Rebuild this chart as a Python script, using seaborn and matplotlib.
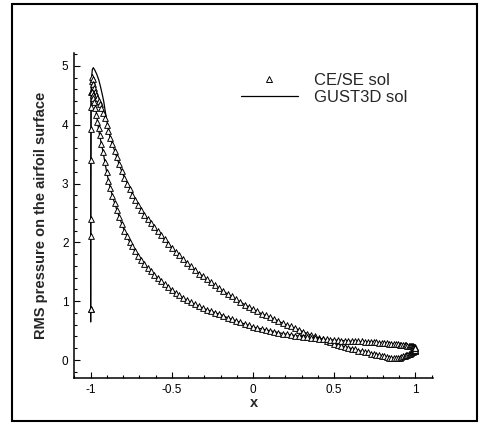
import matplotlib
matplotlib.use("Agg")
import matplotlib.pyplot as plt
from matplotlib.ticker import MultipleLocator, FormatStrFormatter
from matplotlib.lines import Line2D
from matplotlib.patches import Rectangle
import seaborn as sns
import pandas as pd

# ---------------- data ----------------
# CE/SE solution: surface stations (same x for both surfaces)
x_cese = [-1.0, -0.9997, -0.9986, -0.9969, -0.9945, -0.9914, -0.9877, -0.9833, -0.9782, -0.9724,
          -0.9659, -0.9588, -0.9511, -0.9426, -0.9336, -0.9239, -0.9136, -0.9026, -0.8910, -0.8788,
          -0.8660, -0.8526, -0.8387, -0.8241, -0.8090, -0.7934, -0.7771, -0.7604, -0.7431, -0.7254,
          -0.7071, -0.6884, -0.6691, -0.6495, -0.6293, -0.6088, -0.5878, -0.5664, -0.5446, -0.5225,
          -0.5, -0.4772, -0.4540, -0.4305, -0.4067, -0.3827, -0.3584, -0.3338, -0.3090, -0.2840,
          -0.2588, -0.2334, -0.2079, -0.1822, -0.1564, -0.1305, -0.1045, -0.0785, -0.0523, -0.0262,
          0.0, 0.0262, 0.0523, 0.0785, 0.1045, 0.1305, 0.1564, 0.1822, 0.2079, 0.2334,
          0.2588, 0.2840, 0.3090, 0.3338, 0.3584, 0.3827, 0.4067, 0.4305, 0.4540, 0.4772,
          0.5, 0.5225, 0.5446, 0.5664, 0.5878, 0.6088, 0.6293, 0.6495, 0.6691, 0.6884,
          0.7071, 0.7254, 0.7431, 0.7604, 0.7771, 0.7934, 0.8090, 0.8241, 0.8387, 0.8526,
          0.8660, 0.8788, 0.8910, 0.9026, 0.9136, 0.9239, 0.9336, 0.9426, 0.9511, 0.9588,
          0.9659, 0.9724, 0.9782, 0.9833, 0.9877, 0.9914, 0.9945, 0.9969, 0.9986, 0.9997, 1.0]

p_cese_upper = [0.87, 2.40, 3.93, 4.55, 4.75, 4.82, 4.78, 4.70, 4.62, 4.55,
                4.50, 4.46, 4.41, 4.35, 4.28, 4.20, 4.11, 4.00, 3.90, 3.78,
                3.67, 3.56, 3.45, 3.33, 3.21, 3.10, 3.00, 2.91, 2.81, 2.72,
                2.63, 2.55, 2.47, 2.40, 2.33, 2.26, 2.19, 2.12, 2.05, 1.98,
                1.91, 1.84, 1.78, 1.71, 1.65, 1.59, 1.53, 1.47, 1.42, 1.37,
                1.32, 1.27, 1.22, 1.17, 1.12, 1.08, 1.03, 0.99, 0.94, 0.90,
                0.86, 0.83, 0.79, 0.76, 0.73, 0.69, 0.66, 0.63, 0.60, 0.57,
                0.54, 0.51, 0.48, 0.45, 0.42, 0.40, 0.37, 0.35, 0.32, 0.30,
                0.28, 0.26, 0.24, 0.22, 0.21, 0.19, 0.18, 0.16, 0.15, 0.14,
                0.13, 0.11, 0.10, 0.09, 0.08, 0.07, 0.06, 0.05, 0.04, 0.035,
                0.03, 0.03, 0.035, 0.04, 0.05, 0.06, 0.07, 0.08, 0.09, 0.10,
                0.11, 0.12, 0.13, 0.14, 0.15, 0.15, 0.16, 0.16, 0.16, 0.17, 0.17]

p_cese_lower = [0.87, 2.10, 3.40, 4.30, 4.55, 4.56, 4.50, 4.45, 4.38, 4.28,
                4.16, 4.05, 3.94, 3.82, 3.68, 3.53, 3.37, 3.20, 3.05, 2.92,
                2.79, 2.67, 2.55, 2.43, 2.31, 2.20, 2.10, 2.01, 1.93, 1.85,
                1.77, 1.70, 1.63, 1.57, 1.51, 1.45, 1.39, 1.34, 1.29, 1.24,
                1.19, 1.14, 1.10, 1.06, 1.02, 0.98, 0.95, 0.91, 0.88, 0.855,
                0.83, 0.80, 0.775, 0.75, 0.72, 0.695, 0.67, 0.64, 0.615, 0.59,
                0.56, 0.545, 0.53, 0.51, 0.495, 0.48, 0.465, 0.45, 0.44, 0.425,
                0.415, 0.405, 0.395, 0.385, 0.375, 0.37, 0.36, 0.355, 0.35, 0.345,
                0.34, 0.335, 0.33, 0.33, 0.325, 0.32, 0.32, 0.315, 0.315, 0.31,
                0.31, 0.305, 0.30, 0.30, 0.295, 0.29, 0.29, 0.285, 0.28, 0.275,
                0.27, 0.27, 0.265, 0.26, 0.26, 0.255, 0.25, 0.25, 0.245, 0.24,
                0.24, 0.235, 0.23, 0.23, 0.225, 0.22, 0.22, 0.215, 0.21, 0.21, 0.20]

# GUST3D solution (continuous line)
x_gust = [-1.0, -0.9995, -0.998, -0.995, -0.99, -0.984, -0.975, -0.963, -0.95, -0.94,
          -0.93, -0.92, -0.91, -0.90, -0.88, -0.86, -0.84, -0.82, -0.80, -0.77,
          -0.74, -0.70, -0.65, -0.60, -0.55, -0.50, -0.45, -0.40, -0.35, -0.30,
          -0.25, -0.20, -0.15, -0.10, -0.05, 0.0, 0.05, 0.10, 0.15, 0.20,
          0.25, 0.30, 0.35, 0.40, 0.45, 0.50, 0.55, 0.60, 0.65, 0.70,
          0.75, 0.80, 0.85, 0.88, 0.91, 0.94, 0.97, 0.99, 1.0]

p_gust_upper = [0.65, 3.0, 4.3, 4.8, 4.94, 4.97, 4.93, 4.86, 4.76, 4.65,
                4.53, 4.40, 4.22, 4.05, 3.78, 3.62, 3.45, 3.29, 3.15, 2.98,
                2.80, 2.60, 2.39, 2.22, 2.06, 1.91, 1.76, 1.63, 1.51, 1.40,
                1.30, 1.20, 1.11, 1.02, 0.94, 0.86, 0.79, 0.73, 0.67, 0.60,
                0.55, 0.49, 0.43, 0.38, 0.33, 0.28, 0.24, 0.20, 0.16, 0.13,
                0.09, 0.07, 0.04, 0.03, 0.05, 0.07, 0.11, 0.14, 0.12]

p_gust_lower = [0.65, 2.8, 4.2, 4.75, 4.85, 4.75, 4.45, 4.15, 3.90, 3.75,
                3.62, 3.48, 3.32, 3.17, 2.93, 2.73, 2.56, 2.40, 2.25, 2.06,
                1.90, 1.74, 1.57, 1.43, 1.30, 1.19, 1.09, 1.00, 0.93, 0.87,
                0.82, 0.77, 0.71, 0.66, 0.61, 0.56, 0.53, 0.50, 0.47, 0.44,
                0.42, 0.40, 0.38, 0.36, 0.35, 0.34, 0.33, 0.32, 0.315, 0.31,
                0.30, 0.29, 0.275, 0.27, 0.26, 0.25, 0.235, 0.22, 0.20]

legend_labels = ["CE/SE sol", "GUST3D sol"]
x_label = "x"
y_label = "RMS pressure on the airfoil surface"

# ---------------- plot ----------------
sns.set_style("ticks")
plt.rcParams["font.family"] = ["Liberation Sans", "DejaVu Sans"]
plt.rcParams["axes.unicode_minus"] = False

fig = plt.figure(figsize=(4.82, 4.24), dpi=100)
ax = fig.add_axes([74 / 482, 1 - 378 / 424, (433 - 74) / 482, (378 - 53) / 424])

for p in (p_gust_upper, p_gust_lower):
    df = pd.DataFrame({"x": x_gust, "p": p})
    sns.lineplot(data=df, x="x", y="p", sort=False, estimator=None,
                 color="black", linewidth=0.9, ax=ax)

for p in (p_cese_upper, p_cese_lower):
    df = pd.DataFrame({"x": x_cese, "p": p})
    sns.scatterplot(data=df, x="x", y="p", marker="^", s=17,
                    color="white", edgecolor="black", linewidth=0.7,
                    ax=ax, zorder=3)

ax.set_xlim(-1.103, 1.109)
ax.set_ylim(-0.306, 5.22)

ax.xaxis.set_major_locator(MultipleLocator(0.5))
ax.xaxis.set_minor_locator(MultipleLocator(0.1))
ax.yaxis.set_major_locator(MultipleLocator(1))
ax.yaxis.set_minor_locator(MultipleLocator(0.2))
ax.xaxis.set_major_formatter(FormatStrFormatter("%g"))
ax.yaxis.set_major_formatter(FormatStrFormatter("%g"))

ax.tick_params(which="both", direction="in", width=0.8, colors="black",
               labelsize=8.5, top=False, right=False)
ax.tick_params(which="major", length=4.5, pad=4)
ax.tick_params(which="minor", length=2.3)

for side in ("top", "right"):
    ax.spines[side].set_visible(False)
for side in ("left", "bottom"):
    ax.spines[side].set_linewidth(1.1)
    ax.spines[side].set_color("black")

ax.set_xlabel(x_label, fontsize=10.5, fontweight="bold", labelpad=0)
ax.set_ylabel(y_label, fontsize=10.5, fontweight="bold", labelpad=10)

handles = [
    Line2D([], [], linestyle="none", marker="^", markersize=4.5,
           markerfacecolor="white", markeredgecolor="black", markeredgewidth=0.7),
    Line2D([], [], color="black", linewidth=0.9),
]
fig.legend(handles, legend_labels, loc="upper left",
           bbox_to_anchor=(241 / 482, 1 - 73 / 424), frameon=False,
           fontsize=12, handlelength=3.4, handletextpad=1.0,
           labelspacing=0.12, borderpad=0, borderaxespad=0)

fig.patches.append(Rectangle((12 / 482, 1 - 421 / 424), (477 - 12) / 482, (421 - 4) / 424,
                             transform=fig.transFigure, fill=False,
                             edgecolor="black", linewidth=1.5))

fig.savefig("out.png", dpi=100)
